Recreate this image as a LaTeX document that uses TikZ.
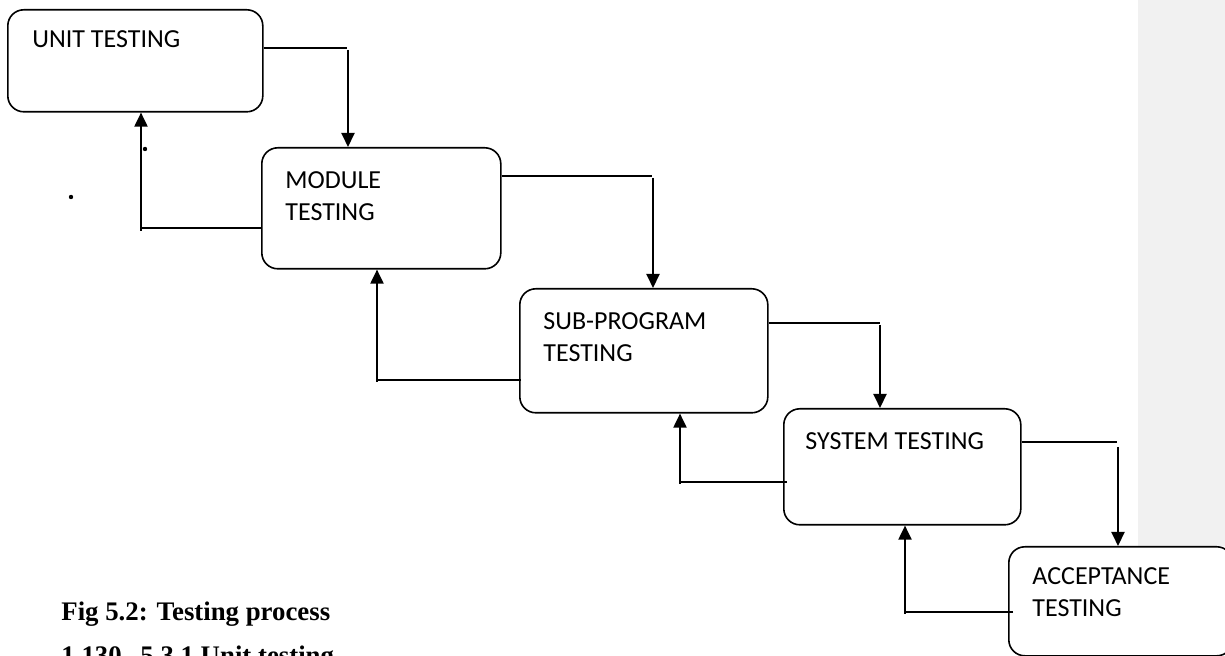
\documentclass[tikz,border=0pt]{standalone}
\usepackage{fontspec}
\setmainfont{Liberation Serif}
\newfontfamily\calfont{Carlito}
\usetikzlibrary{arrows.meta}
\definecolor{panelgrey}{HTML}{F1F1F1}
\begin{document}
\begin{tikzpicture}[x=0.5pt,y=-0.5pt,
  box/.style={draw, rounded corners=8pt, line width=0.8pt, fill=white, anchor=north west, inner sep=0pt},
  lbl/.style={font=\calfont\fontsize{13pt}{16pt}\selectfont, anchor=base west, inner sep=0pt, align=left},
  hline/.style={line width=0.7pt},
  varr/.style={line width=1pt, -{Triangle[length=7pt,width=6.5pt]}},
  captxt/.style={font=\fontsize{13.4pt}{16pt}\selectfont\bfseries, anchor=base west, inner sep=0pt}]
\clip (0,0) rectangle (1225,656);
\fill[white] (0,0) rectangle (1225,656);
\fill[panelgrey] (1138,0) rectangle (1225,546);

% boxes
\node[box, minimum width=127.5pt, minimum height=51pt] (b1) at (7,9) {};
\node[box, minimum width=119.5pt, minimum height=60.5pt] (b2) at (261,147) {};
\node[box, minimum width=124pt, minimum height=62pt] (b3) at (519,288) {};
\node[box, minimum width=118.5pt, minimum height=58pt] (b4) at (783,408) {};
\node[box, minimum width=112pt, minimum height=54.5pt] (b5) at (1008,546) {};

% labels (anchor is the baseline of the last line)
\node[lbl] (t1) at (32,48) {UNIT TESTING};
\node[lbl] (t2) at (285,221) {MODULE\\TESTING};
\node[lbl] (t3) at (543,362) {SUB-PROGRAM\\TESTING};
\node[lbl] (t4) at (805,450) {SYSTEM TESTING};
\node[lbl] (t5) at (1032,617) {ACCEPTANCE\\TESTING};

% forward connectors
\coordinate (k1) at (347,48);  \coordinate (k1v) at (348,50);
\coordinate (k2) at (652,176); \coordinate (k2v) at (653,178);
\coordinate (k3) at (880,323); \coordinate (k3v) at (880,325);
\coordinate (k4) at (1117,442); \coordinate (k4v) at (1118,447);
\draw[hline] (b1.east |- k1) -- (k1);
\draw[varr] (k1v) -- (k1v |- b2.north);
\draw[hline] (b2.east |- k2) -- (k2);
\draw[varr] (k2v) -- (k2v |- b3.north);
\draw[hline] (b3.east |- k3) -- (k3);
\draw[varr] (k3v) -- (k3v |- b4.north);
\draw[hline] (b4.east |- k4) -- (k4);
\draw[varr] (k4v) -- (k4v |- b5.north);

% feedback connectors
\coordinate (f2) at (141,228); \coordinate (f2v) at (141,231);
\coordinate (f3) at (377,380); \coordinate (f3v) at (377,382);
\coordinate (f4) at (680,482); \coordinate (f4v) at (680,484);
\coordinate (f5) at (905,612); \coordinate (f5v) at (905,614);
\draw[hline] (b2.west |- f2) -- (f2);
\draw[varr] (f2v) -- (f2v |- b1.south);
\draw[hline] ([xshift=1pt]b3.west |- f3) -- (f3);
\draw[varr] (f3v) -- (f3v |- b2.south);
\draw[hline] ([xshift=2pt]b4.west |- f4) -- (f4);
\draw[varr] (f4v) -- (f4v |- b3.south);
\draw[hline] ([xshift=2.5pt]b5.west |- f5) -- (f5);
\draw[varr] (f5v) -- (f5v |- b4.south);

% stray dots
\fill (145,149) circle (1.1pt);
\fill (71,197) circle (1.1pt);

% caption
\node[captxt] (c1) at (61,620) {Fig 5.2: Testing process};
\node[captxt] (c2) at (61,664) {1.130\hspace{0.7em}5.3.1 Unit testing};
\end{tikzpicture}
\end{document}
